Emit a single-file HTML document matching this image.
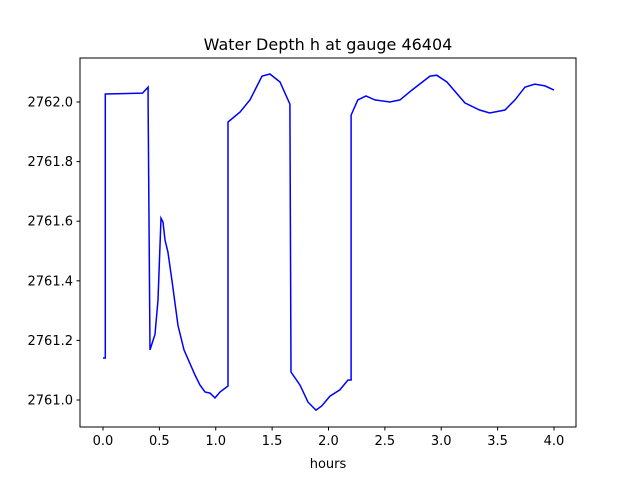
<!DOCTYPE html>
<html><head><meta charset="utf-8"><style>
body{margin:0;background:#fff;}
svg{display:block;font-family:"DejaVu Sans","Liberation Sans",sans-serif;}
</style></head><body>
<svg id="chart" width="640" height="480">
<rect width="640" height="480" fill="#fff"/>
<text x="328" y="50" text-anchor="middle" font-size="16">Water Depth h at gauge 46404</text>
<g id="xt"></g><g id="yt"></g>
<path id="line" fill="none" stroke="#0000ff" stroke-width="1.5"/>
<rect x="80" y="58" width="496" height="369" fill="none" stroke="#000" stroke-width="1"/>
<text x="328" y="468" text-anchor="middle" font-size="13">hours</text>
</svg>
<script>
const hours=[0,0.02,0.02,0.35,0.40,0.40,0.417,0.461,0.488,0.514,0.532,0.55,0.576,0.612,0.665,0.718,0.816,0.86,0.905,0.949,0.993,1.038,1.109,1.109,1.215,1.304,1.41,1.48,1.57,1.658,1.667,1.747,1.818,1.889,1.94,2.013,2.1,2.173,2.2,2.2,2.26,2.333,2.41,2.545,2.634,2.74,2.9,2.96,3.05,3.21,3.34,3.43,3.565,3.654,3.743,3.83,3.92,4.0];
const depth=[2761.141,2761.141,2762.027,2762.03,2762.05,2762.0,2761.168,2761.22,2761.336,2761.61,2761.597,2761.537,2761.497,2761.40,2761.25,2761.168,2761.084,2761.05,2761.027,2761.023,2761.007,2761.027,2761.047,2761.933,2761.966,2762.007,2762.087,2762.094,2762.067,2761.993,2761.094,2761.05,2760.993,2760.966,2760.98,2761.013,2761.034,2761.067,2761.067,2761.956,2762.007,2762.02,2762.007,2762.0,2762.007,2762.04,2762.087,2762.09,2762.067,2761.997,2761.973,2761.963,2761.973,2762.007,2762.05,2762.06,2762.054,2762.04];
const xTicks=[0,0.5,1,1.5,2,2.5,3,3.5,4];
const yTicks=[2761.0,2761.2,2761.4,2761.6,2761.8,2762.0];
const xs=v=>103+(v-0)*112.75;
const ys=v=>400-(v-2761)*298;
const NS="http://www.w3.org/2000/svg";
let d="";
hours.forEach((h,i)=>{d+=(i?"L":"M")+xs(h).toFixed(1)+","+ys(depth[i]).toFixed(1);});
document.getElementById("line").setAttribute("d",d);
const xt=document.getElementById("xt"),yt=document.getElementById("yt");
xTicks.forEach(v=>{
const l=document.createElementNS(NS,"line");


l.setAttribute("x1",xs(v));l.setAttribute("x2",xs(v));l.setAttribute("y1",427);l.setAttribute("y2",430.5);l.setAttribute("stroke","#000");
xt.appendChild(l);
const t=document.createElementNS(NS,"text");


t.setAttribute("x",xs(v));t.setAttribute("y",445);t.setAttribute("text-anchor","middle");t.setAttribute("font-size","13");
t.textContent=v.toFixed(1);xt.appendChild(t);
});
yTicks.forEach(v=>{
const l=document.createElementNS(NS,"line");


l.setAttribute("x1",76.5);l.setAttribute("x2",80);l.setAttribute("y1",ys(v));l.setAttribute("y2",ys(v));l.setAttribute("stroke","#000");
yt.appendChild(l);
const t=document.createElementNS(NS,"text");


t.setAttribute("x",73);t.setAttribute("y",ys(v)+4.5);t.setAttribute("text-anchor","end");t.setAttribute("font-size","13");
t.textContent=v.toFixed(1);yt.appendChild(t);
});
</script>
</body></html>
